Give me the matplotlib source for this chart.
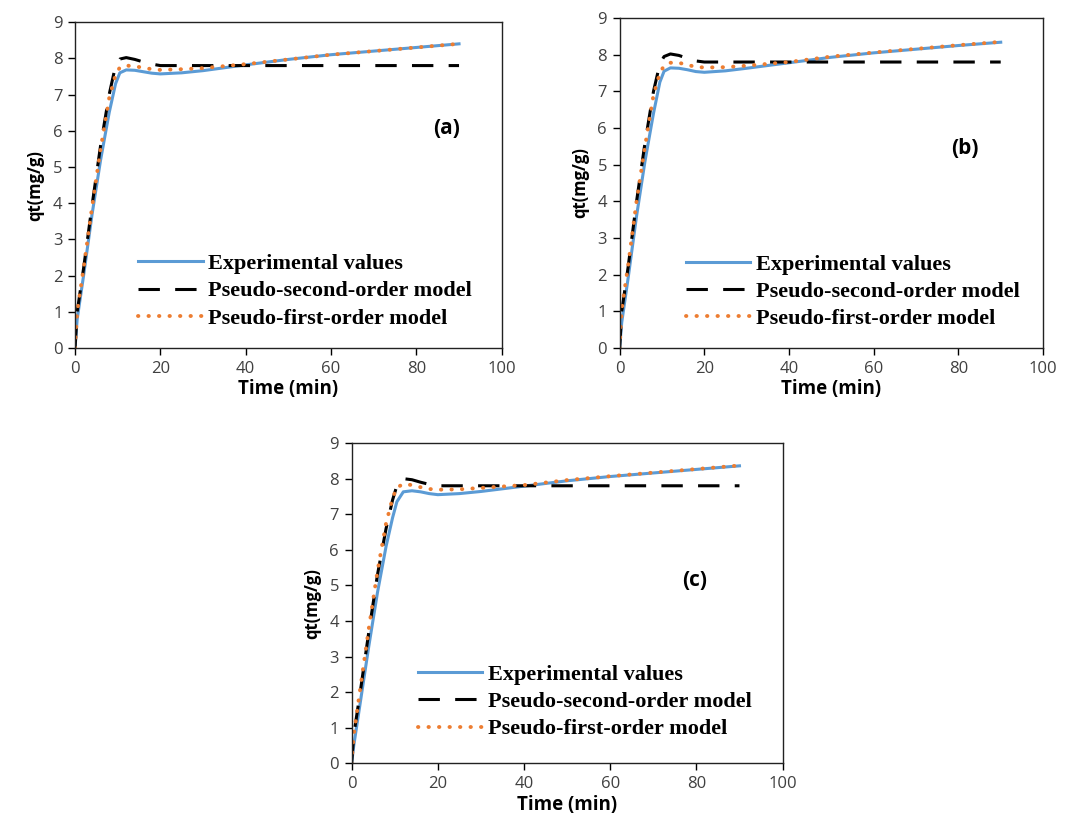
import matplotlib.pyplot as plt

# time points (min)
t = [0, 0.5, 2, 4, 6, 8, 9.5, 10.5, 12, 14, 16, 18, 20, 25, 30, 40, 50, 60, 70, 80, 90]

# panel (a)
exp_a = [0, 0.8, 2.0, 3.7, 5.2, 6.5, 7.3, 7.6, 7.68, 7.67, 7.63, 7.59, 7.57, 7.6, 7.66, 7.82, 7.97, 8.1, 8.2, 8.3, 8.4]
pso_a = [0, 1.0, 2.2, 3.95, 5.6, 7.0, 7.8, 7.98, 8.02, 7.97, 7.9, 7.84, 7.8, 7.8, 7.8, 7.8, 7.8, 7.8, 7.8, 7.8, 7.8]
pfo_a = [0, 1.0, 2.2, 3.9, 5.5, 6.9, 7.55, 7.75, 7.8, 7.78, 7.74, 7.7, 7.68, 7.7, 7.73, 7.84, 7.97, 8.1, 8.2, 8.3, 8.4]

# panel (b)
exp_b = [0, 0.7, 1.9, 3.6, 5.1, 6.4, 7.25, 7.55, 7.64, 7.63, 7.59, 7.54, 7.52, 7.56, 7.63, 7.78, 7.93, 8.05, 8.15, 8.25, 8.34]
pso_b = [0, 1.0, 2.2, 4.0, 5.6, 7.0, 7.75, 7.95, 8.02, 7.98, 7.9, 7.83, 7.8, 7.8, 7.8, 7.8, 7.8, 7.8, 7.8, 7.8, 7.8]
pfo_b = [0, 1.05, 2.25, 4.0, 5.5, 6.9, 7.5, 7.7, 7.78, 7.78, 7.72, 7.67, 7.65, 7.66, 7.7, 7.8, 7.95, 8.06, 8.16, 8.26, 8.35]

# panel (c)
exp_c = [0, 0.5, 1.7, 3.3, 4.8, 6.1, 6.9, 7.35, 7.63, 7.66, 7.63, 7.58, 7.55, 7.58, 7.64, 7.79, 7.94, 8.06, 8.16, 8.26, 8.36]
pso_c = [0, 0.8, 2.0, 3.7, 5.3, 6.6, 7.4, 7.8, 8.0, 7.97, 7.9, 7.84, 7.8, 7.8, 7.8, 7.8, 7.8, 7.8, 7.8, 7.8, 7.8]
pfo_c = [0, 0.8, 2.1, 3.8, 5.4, 6.75, 7.45, 7.75, 7.85, 7.82, 7.76, 7.71, 7.69, 7.7, 7.74, 7.82, 7.96, 8.07, 8.17, 8.27, 8.37]

labels = ["Experimental values", "Pseudo-second-order model", "Pseudo-first-order model"]
tick_font = "Open Sans"
legend_font = "Liberation Serif"


def draw_panel(ax, exp, pso, pfo, tag, tag_xy, leg_xy):
    ax.plot(t, exp, color="#5B9BD5", lw=2.2, label=labels[0])
    ax.plot(t, pso, color="black", lw=2.2, dashes=(7, 5), label=labels[1])
    ax.plot(t, pfo, color="#ED7D31", lw=2.8, linestyle=(0, (0.1, 2.6)),
            dash_capstyle="round", label=labels[2])
    ax.set_xlim(0, 100)
    ax.set_ylim(0, 9)
    ax.set_xticks(range(0, 101, 20))
    ax.set_yticks(range(0, 10))
    ax.tick_params(direction="out", length=5, width=1, labelsize=12, pad=4)
    for lab in ax.get_xticklabels() + ax.get_yticklabels():
        lab.set_fontfamily(tick_font)
        lab.set_color("#404040")
    for s in ax.spines.values():
        s.set_linewidth(1.0)
        s.set_color("#222222")
    ax.set_xlabel("Time (min)", fontsize=13.5, fontweight="bold", family=tick_font, labelpad=2)
    ax.set_ylabel("qt(mg/g)", fontsize=12, fontweight="bold", family=tick_font, labelpad=6)
    ax.text(tag_xy[0], tag_xy[1], tag, fontsize=15, fontweight="bold", family=tick_font,
            ha="center", va="center")
    ax.legend(loc="upper left", bbox_to_anchor=leg_xy, frameon=False, borderpad=0,
              borderaxespad=0, handlelength=2.9, handletextpad=0.25, labelspacing=0.3,
              prop={"family": legend_font, "weight": "bold", "size": 16})


fig = plt.figure(figsize=(10.72, 8.19), dpi=100)
ax_a = fig.add_axes([0.070, 0.575, 0.398, 0.398])
ax_b = fig.add_axes([0.578, 0.575, 0.395, 0.403])
ax_c = fig.add_axes([0.328, 0.068, 0.402, 0.391])

draw_panel(ax_a, exp_a, pso_a, pfo_a, "(a)", (87, 6.05), (0.148, 0.29))
draw_panel(ax_b, exp_b, pso_b, pfo_b, "(b)", (81.6, 5.45), (0.156, 0.285))
draw_panel(ax_c, exp_c, pso_c, pfo_c, "(c)", (79.6, 5.15), (0.153, 0.309))

fig.savefig("out.png", dpi=100)
